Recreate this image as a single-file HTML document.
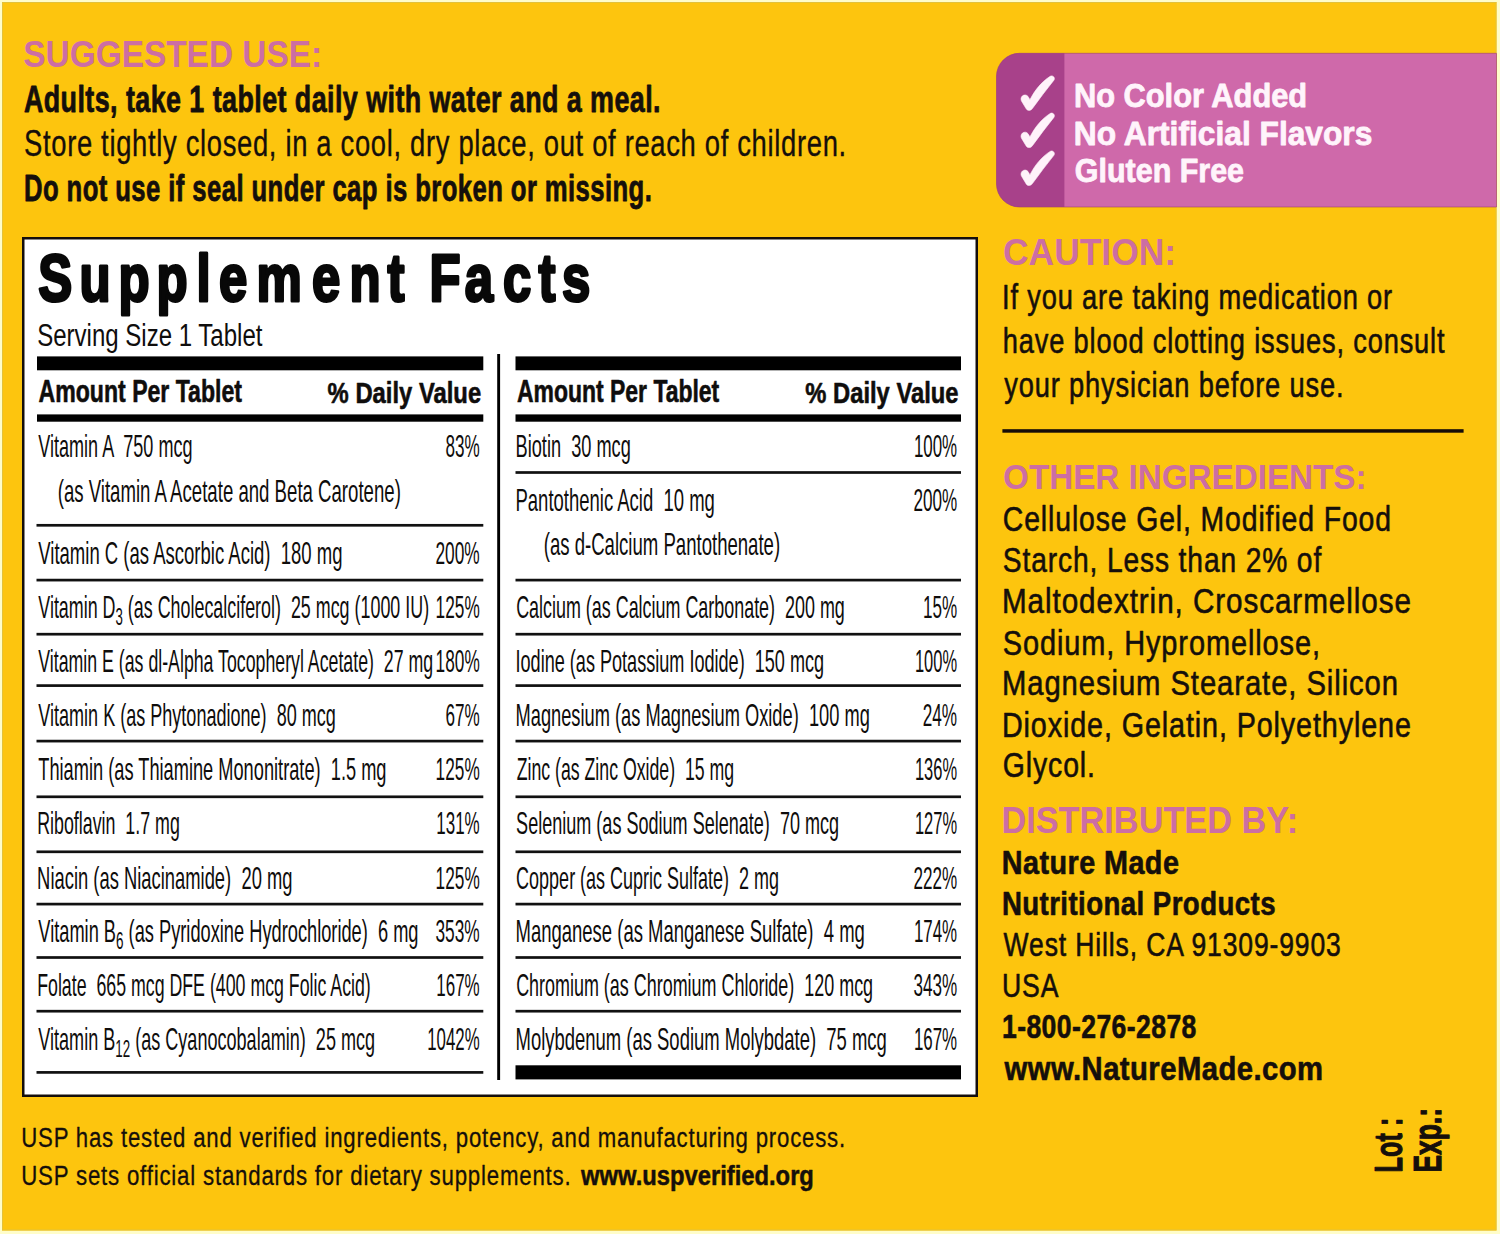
<!DOCTYPE html>
<html><head><meta charset="utf-8"><style>
html,body{margin:0;padding:0;width:1500px;height:1234px;overflow:hidden;background:#fffdc9;}
svg{display:block;font-family:"Liberation Sans",sans-serif;}
</style></head><body>
<svg width="1500" height="1234" viewBox="0 0 1500 1234">
<rect x="0" y="0" width="1500" height="1234" fill="#fffdc9"/>
<rect x="2" y="2" width="1494.5" height="1228.5" fill="#fdc50e"/>
<rect x="2.5" y="2.5" width="1493.5" height="1227.5" fill="none" stroke="#e2c23a" stroke-width="1"/>
<!-- pink box -->
<path d="M1019.5 53.3 H1496.5 V207 H1019.5 A23 23 0 0 1 996.5 184 V76.3 A23 23 0 0 1 1019.5 53.3 Z" fill="#cf69aa"/>
<path d="M1019.5 53.3 H1064.4 V207 H1019.5 A23 23 0 0 1 996.5 184 V76.3 A23 23 0 0 1 1019.5 53.3 Z" fill="#a8418a"/>
<path d="M1019.5 53.3 H1496.5 V207 H1019.5 A23 23 0 0 1 996.5 184 V76.3 A23 23 0 0 1 1019.5 53.3 Z" fill="none" stroke="#9c3f70" stroke-opacity="0.6" stroke-width="1"/>
<g fill="#fff3fa" stroke="#fff3fa" stroke-width="0.6" stroke-linejoin="round">
<path d="M1050.2 76.3 C1052.6 74.8 1055.6 77.6 1053.9 80.2 C1046.4 89.2 1039.4 99.2 1032.4 108.5 C1030.8 111 1027.4 110.9 1026.2 108.8 L1021.6 101.2 C1020.2 98.6 1021.6 95.6 1024.2 95.1 C1026.4 94.6 1027.8 95.8 1028.7 97.6 L1029.9 99.8 C1034.8 90.2 1041.5 81.8 1050.2 76.3 Z"/>
<path transform="translate(0,37.2)" d="M1050.2 76.3 C1052.6 74.8 1055.6 77.6 1053.9 80.2 C1046.4 89.2 1039.4 99.2 1032.4 108.5 C1030.8 111 1027.4 110.9 1026.2 108.8 L1021.6 101.2 C1020.2 98.6 1021.6 95.6 1024.2 95.1 C1026.4 94.6 1027.8 95.8 1028.7 97.6 L1029.9 99.8 C1034.8 90.2 1041.5 81.8 1050.2 76.3 Z"/>
<path transform="translate(0,75.1)" d="M1050.2 76.3 C1052.6 74.8 1055.6 77.6 1053.9 80.2 C1046.4 89.2 1039.4 99.2 1032.4 108.5 C1030.8 111 1027.4 110.9 1026.2 108.8 L1021.6 101.2 C1020.2 98.6 1021.6 95.6 1024.2 95.1 C1026.4 94.6 1027.8 95.8 1028.7 97.6 L1029.9 99.8 C1034.8 90.2 1041.5 81.8 1050.2 76.3 Z"/>
</g>
<!-- panel -->
<rect x="23.25" y="238.25" width="753.5" height="0" fill="none"/>
<rect x="23.25" y="238.25" width="953.5" height="857.5" fill="#ffffff" stroke="#140e0c" stroke-width="2.5"/>
<!-- thick bars -->
<rect x="37" y="356.4" width="446.3" height="13.9" fill="#000"/>
<rect x="515.5" y="356.4" width="445.5" height="13.9" fill="#000"/>
<!-- medium bars -->
<rect x="37" y="414.4" width="446.3" height="7.3" fill="#000"/>
<rect x="515.5" y="414.4" width="445.5" height="7.3" fill="#000"/>
<!-- divider -->
<rect x="497.2" y="354" width="2.9" height="726" fill="#000"/>
<!-- bottom thick bar right col -->
<rect x="515.5" y="1065.3" width="445.5" height="14.1" fill="#000"/>
<!-- thin lines -->
<g fill="#111">
<rect x="36.5" y="523.95" width="446.8" height="2.7"/>
<rect x="36.5" y="578.75" width="446.8" height="2.7"/>
<rect x="36.5" y="632.85" width="446.8" height="2.7"/>
<rect x="36.5" y="684.25" width="446.8" height="2.7"/>
<rect x="36.5" y="739.75" width="446.8" height="2.7"/>
<rect x="36.5" y="795.45" width="446.8" height="2.7"/>
<rect x="36.5" y="850.45" width="446.8" height="2.7"/>
<rect x="36.5" y="902.75" width="446.8" height="2.7"/>
<rect x="36.5" y="956.15" width="446.8" height="2.7"/>
<rect x="36.5" y="1009.85" width="446.8" height="2.7"/>
<rect x="36.5" y="1071.05" width="446.8" height="2.7"/>
<rect x="515.5" y="471.15" width="445.5" height="2.7"/>
<rect x="515.5" y="578.75" width="445.5" height="2.7"/>
<rect x="515.5" y="632.85" width="445.5" height="2.7"/>
<rect x="515.5" y="684.25" width="445.5" height="2.7"/>
<rect x="515.5" y="739.75" width="445.5" height="2.7"/>
<rect x="515.5" y="795.45" width="445.5" height="2.7"/>
<rect x="515.5" y="850.45" width="445.5" height="2.7"/>
<rect x="515.5" y="902.75" width="445.5" height="2.7"/>
<rect x="515.5" y="956.15" width="445.5" height="2.7"/>
<rect x="515.5" y="1009.85" width="445.5" height="2.7"/>
</g>
<!-- caution separator -->
<rect x="1002.4" y="429.2" width="461.2" height="3.5" fill="#150c08"/>

<text x="23.28" y="67.00" font-size="36.34" font-weight="700" fill="#cc6ea3" textLength="298.87" lengthAdjust="spacingAndGlyphs" style="white-space:pre">SUGGESTED USE:</text>
<text x="23.90" y="112.00" font-size="37.79" font-weight="700" fill="#150f0b" stroke="#150f0b" stroke-width="0.8" stroke-linejoin="round" textLength="637.10" lengthAdjust="spacingAndGlyphs" style="white-space:pre;letter-spacing:0.60px">Adults, take 1 tablet daily with water and a meal.</text>
<text x="24.02" y="156.20" font-size="36.34" fill="#150f0b" stroke="#150f0b" stroke-width="0.35" stroke-linejoin="round" textLength="822.81" lengthAdjust="spacingAndGlyphs" style="white-space:pre;letter-spacing:0.90px">Store tightly closed, in a cool, dry place, out of reach of children.</text>
<text x="24.00" y="200.60" font-size="36.77" font-weight="700" fill="#150f0b" stroke="#150f0b" stroke-width="0.8" stroke-linejoin="round" textLength="628.26" lengthAdjust="spacingAndGlyphs" style="white-space:pre;letter-spacing:0.60px">Do not use if seal under cap is broken or missing.</text>
<text x="1073.92" y="106.70" font-size="32.56" font-weight="700" fill="#fff4fb" stroke="#fff4fb" stroke-width="0.8" stroke-linejoin="round" textLength="233.25" lengthAdjust="spacingAndGlyphs" style="white-space:pre">No Color Added</text>
<text x="1073.86" y="144.50" font-size="32.56" font-weight="700" fill="#fff4fb" stroke="#fff4fb" stroke-width="0.8" stroke-linejoin="round" textLength="298.51" lengthAdjust="spacingAndGlyphs" style="white-space:pre">No Artificial Flavors</text>
<text x="1074.86" y="182.10" font-size="32.56" font-weight="700" fill="#fff4fb" stroke="#fff4fb" stroke-width="0.8" stroke-linejoin="round" textLength="169.17" lengthAdjust="spacingAndGlyphs" style="white-space:pre">Gluten Free</text>
<text x="37.22" y="346.00" font-size="30.81" fill="#0f0d0c" textLength="225.23" lengthAdjust="spacingAndGlyphs" style="white-space:pre">Serving Size 1 Tablet</text>
<text x="38.60" y="402.00" font-size="31.25" font-weight="700" fill="#0f0d0c" stroke="#0f0d0c" stroke-width="0.6" stroke-linejoin="round" textLength="203.36" lengthAdjust="spacingAndGlyphs" style="white-space:pre">Amount Per Tablet</text>
<text x="327.60" y="403.30" font-size="29.80" font-weight="700" fill="#0f0d0c" stroke="#0f0d0c" stroke-width="0.6" stroke-linejoin="round" textLength="153.55" lengthAdjust="spacingAndGlyphs" style="white-space:pre">% Daily Value</text>
<text x="517.00" y="402.00" font-size="31.25" font-weight="700" fill="#0f0d0c" stroke="#0f0d0c" stroke-width="0.6" stroke-linejoin="round" textLength="202.26" lengthAdjust="spacingAndGlyphs" style="white-space:pre">Amount Per Tablet</text>
<text x="805.30" y="403.30" font-size="29.80" font-weight="700" fill="#0f0d0c" stroke="#0f0d0c" stroke-width="0.6" stroke-linejoin="round" textLength="153.15" lengthAdjust="spacingAndGlyphs" style="white-space:pre">% Daily Value</text>
<text x="38.30" y="456.70" font-size="31.25" fill="#0f0d0c" textLength="154.19" lengthAdjust="spacingAndGlyphs" style="white-space:pre">Vitamin A  750 mcg</text>
<text x="445.45" y="456.70" font-size="31.25" fill="#0f0d0c" textLength="34.28" lengthAdjust="spacingAndGlyphs" style="white-space:pre">83%</text>
<text x="57.71" y="501.70" font-size="31.25" fill="#0f0d0c" textLength="343.12" lengthAdjust="spacingAndGlyphs" style="white-space:pre">(as Vitamin A Acetate and Beta Carotene)</text>
<text x="38.30" y="563.90" font-size="31.25" fill="#0f0d0c" textLength="304.21" lengthAdjust="spacingAndGlyphs" style="white-space:pre">Vitamin C (as Ascorbic Acid)  180 mg</text>
<text x="435.45" y="563.90" font-size="31.25" fill="#0f0d0c" textLength="44.29" lengthAdjust="spacingAndGlyphs" style="white-space:pre">200%</text>
<text x="38.30" y="618.30" font-size="31.25" fill="#0f0d0c" textLength="390.81" lengthAdjust="spacingAndGlyphs" style="white-space:pre">Vitamin D<tspan font-size="23.13" dy="6.56">3</tspan><tspan dy="-6.56"> (as Cholecalciferol)  25 mcg (1000 IU)</tspan></text>
<text x="435.60" y="618.30" font-size="31.25" fill="#0f0d0c" textLength="44.14" lengthAdjust="spacingAndGlyphs" style="white-space:pre">125%</text>
<text x="38.30" y="672.20" font-size="31.25" fill="#0f0d0c" textLength="394.78" lengthAdjust="spacingAndGlyphs" style="white-space:pre">Vitamin E (as dl-Alpha Tocopheryl Acetate)  27 mg</text>
<text x="435.60" y="672.20" font-size="31.25" fill="#0f0d0c" textLength="44.14" lengthAdjust="spacingAndGlyphs" style="white-space:pre">180%</text>
<text x="38.30" y="726.10" font-size="31.25" fill="#0f0d0c" textLength="297.50" lengthAdjust="spacingAndGlyphs" style="white-space:pre">Vitamin K (as Phytonadione)  80 mcg</text>
<text x="445.45" y="726.10" font-size="31.25" fill="#0f0d0c" textLength="34.28" lengthAdjust="spacingAndGlyphs" style="white-space:pre">67%</text>
<text x="38.30" y="779.70" font-size="31.25" fill="#0f0d0c" textLength="348.20" lengthAdjust="spacingAndGlyphs" style="white-space:pre">Thiamin (as Thiamine Mononitrate)  1.5 mg</text>
<text x="435.60" y="779.70" font-size="31.25" fill="#0f0d0c" textLength="44.14" lengthAdjust="spacingAndGlyphs" style="white-space:pre">125%</text>
<text x="37.16" y="834.20" font-size="31.25" fill="#0f0d0c" textLength="142.63" lengthAdjust="spacingAndGlyphs" style="white-space:pre">Riboflavin  1.7 mg</text>
<text x="436.21" y="834.20" font-size="31.25" fill="#0f0d0c" textLength="43.52" lengthAdjust="spacingAndGlyphs" style="white-space:pre">131%</text>
<text x="37.12" y="889.30" font-size="31.25" fill="#0f0d0c" textLength="255.39" lengthAdjust="spacingAndGlyphs" style="white-space:pre">Niacin (as Niacinamide)  20 mg</text>
<text x="435.60" y="889.30" font-size="31.25" fill="#0f0d0c" textLength="44.14" lengthAdjust="spacingAndGlyphs" style="white-space:pre">125%</text>
<text x="38.30" y="942.20" font-size="31.25" fill="#0f0d0c" textLength="380.21" lengthAdjust="spacingAndGlyphs" style="white-space:pre">Vitamin B<tspan font-size="23.13" dy="6.56">6</tspan><tspan dy="-6.56"> (as Pyridoxine Hydrochloride)  6 mg</tspan></text>
<text x="435.45" y="942.20" font-size="31.25" fill="#0f0d0c" textLength="44.29" lengthAdjust="spacingAndGlyphs" style="white-space:pre">353%</text>
<text x="37.17" y="996.30" font-size="31.25" fill="#0f0d0c" textLength="333.63" lengthAdjust="spacingAndGlyphs" style="white-space:pre">Folate  665 mcg DFE (400 mcg Folic Acid)</text>
<text x="436.21" y="996.30" font-size="31.25" fill="#0f0d0c" textLength="43.52" lengthAdjust="spacingAndGlyphs" style="white-space:pre">167%</text>
<text x="38.30" y="1050.10" font-size="31.25" fill="#0f0d0c" textLength="336.80" lengthAdjust="spacingAndGlyphs" style="white-space:pre">Vitamin B<tspan font-size="23.13" dy="6.56">12</tspan><tspan dy="-6.56"> (as Cyanocobalamin)  25 mcg</tspan></text>
<text x="427.22" y="1050.10" font-size="31.25" fill="#0f0d0c" textLength="52.50" lengthAdjust="spacingAndGlyphs" style="white-space:pre">1042%</text>
<text x="515.54" y="456.70" font-size="31.25" fill="#0f0d0c" textLength="115.27" lengthAdjust="spacingAndGlyphs" style="white-space:pre">Biotin  30 mcg</text>
<text x="913.92" y="456.70" font-size="31.25" fill="#0f0d0c" textLength="43.21" lengthAdjust="spacingAndGlyphs" style="white-space:pre">100%</text>
<text x="515.52" y="510.70" font-size="31.25" fill="#0f0d0c" textLength="199.29" lengthAdjust="spacingAndGlyphs" style="white-space:pre">Pantothenic Acid  10 mg</text>
<text x="913.45" y="510.70" font-size="31.25" fill="#0f0d0c" textLength="43.68" lengthAdjust="spacingAndGlyphs" style="white-space:pre">200%</text>
<text x="543.71" y="555.00" font-size="31.25" fill="#0f0d0c" textLength="236.43" lengthAdjust="spacingAndGlyphs" style="white-space:pre">(as d-Calcium Pantothenate)</text>
<text x="516.13" y="618.30" font-size="31.25" fill="#0f0d0c" textLength="328.66" lengthAdjust="spacingAndGlyphs" style="white-space:pre">Calcium (as Calcium Carbonate)  200 mg</text>
<text x="922.91" y="618.30" font-size="31.25" fill="#0f0d0c" textLength="34.22" lengthAdjust="spacingAndGlyphs" style="white-space:pre">15%</text>
<text x="515.54" y="672.20" font-size="31.25" fill="#0f0d0c" textLength="308.56" lengthAdjust="spacingAndGlyphs" style="white-space:pre">Iodine (as Potassium Iodide)  150 mcg</text>
<text x="914.94" y="672.20" font-size="31.25" fill="#0f0d0c" textLength="42.17" lengthAdjust="spacingAndGlyphs" style="white-space:pre">100%</text>
<text x="515.53" y="726.10" font-size="31.25" fill="#0f0d0c" textLength="354.28" lengthAdjust="spacingAndGlyphs" style="white-space:pre">Magnesium (as Magnesium Oxide)  100 mg</text>
<text x="922.75" y="726.10" font-size="31.25" fill="#0f0d0c" textLength="34.38" lengthAdjust="spacingAndGlyphs" style="white-space:pre">24%</text>
<text x="516.70" y="779.70" font-size="31.25" fill="#0f0d0c" textLength="217.38" lengthAdjust="spacingAndGlyphs" style="white-space:pre">Zinc (as Zinc Oxide)  15 mg</text>
<text x="914.94" y="779.70" font-size="31.25" fill="#0f0d0c" textLength="42.17" lengthAdjust="spacingAndGlyphs" style="white-space:pre">136%</text>
<text x="516.12" y="834.20" font-size="31.25" fill="#0f0d0c" textLength="322.97" lengthAdjust="spacingAndGlyphs" style="white-space:pre">Selenium (as Sodium Selenate)  70 mcg</text>
<text x="914.94" y="834.20" font-size="31.25" fill="#0f0d0c" textLength="42.17" lengthAdjust="spacingAndGlyphs" style="white-space:pre">127%</text>
<text x="516.12" y="889.30" font-size="31.25" fill="#0f0d0c" textLength="262.97" lengthAdjust="spacingAndGlyphs" style="white-space:pre">Copper (as Cupric Sulfate)  2 mg</text>
<text x="913.45" y="889.30" font-size="31.25" fill="#0f0d0c" textLength="43.68" lengthAdjust="spacingAndGlyphs" style="white-space:pre">222%</text>
<text x="515.52" y="942.20" font-size="31.25" fill="#0f0d0c" textLength="349.30" lengthAdjust="spacingAndGlyphs" style="white-space:pre">Manganese (as Manganese Sulfate)  4 mg</text>
<text x="913.92" y="942.20" font-size="31.25" fill="#0f0d0c" textLength="43.21" lengthAdjust="spacingAndGlyphs" style="white-space:pre">174%</text>
<text x="516.13" y="996.30" font-size="31.25" fill="#0f0d0c" textLength="356.97" lengthAdjust="spacingAndGlyphs" style="white-space:pre">Chromium (as Chromium Chloride)  120 mcg</text>
<text x="913.45" y="996.30" font-size="31.25" fill="#0f0d0c" textLength="43.68" lengthAdjust="spacingAndGlyphs" style="white-space:pre">343%</text>
<text x="515.52" y="1050.10" font-size="31.25" fill="#0f0d0c" textLength="371.30" lengthAdjust="spacingAndGlyphs" style="white-space:pre">Molybdenum (as Sodium Molybdate)  75 mcg</text>
<text x="913.92" y="1050.10" font-size="31.25" fill="#0f0d0c" textLength="43.21" lengthAdjust="spacingAndGlyphs" style="white-space:pre">167%</text>
<text x="1003.06" y="265.00" font-size="37.79" font-weight="700" fill="#cc6ea3" textLength="172.99" lengthAdjust="spacingAndGlyphs" style="white-space:pre">CAUTION:</text>
<text x="1001.98" y="309.30" font-size="35.18" fill="#150f0b" stroke="#150f0b" stroke-width="0.6" stroke-linejoin="round" textLength="391.05" lengthAdjust="spacingAndGlyphs" style="white-space:pre;letter-spacing:1.10px">If you are taking medication or</text>
<text x="1002.75" y="353.30" font-size="35.18" fill="#150f0b" stroke="#150f0b" stroke-width="0.6" stroke-linejoin="round" textLength="442.62" lengthAdjust="spacingAndGlyphs" style="white-space:pre;letter-spacing:1.10px">have blood clotting issues, consult</text>
<text x="1004.30" y="396.70" font-size="35.18" fill="#150f0b" stroke="#150f0b" stroke-width="0.6" stroke-linejoin="round" textLength="340.10" lengthAdjust="spacingAndGlyphs" style="white-space:pre;letter-spacing:1.10px">your physician before use.</text>
<text x="1003.06" y="489.30" font-size="35.32" font-weight="700" fill="#cc6ea3" textLength="363.54" lengthAdjust="spacingAndGlyphs" style="white-space:pre">OTHER INGREDIENTS:</text>
<text x="1002.80" y="531.00" font-size="35.32" fill="#150f0b" stroke="#150f0b" stroke-width="0.6" stroke-linejoin="round" textLength="389.10" lengthAdjust="spacingAndGlyphs" style="white-space:pre;letter-spacing:1.10px">Cellulose Gel, Modified Food</text>
<text x="1002.80" y="571.70" font-size="35.32" fill="#150f0b" stroke="#150f0b" stroke-width="0.6" stroke-linejoin="round" textLength="319.32" lengthAdjust="spacingAndGlyphs" style="white-space:pre;letter-spacing:1.10px">Starch, Less than 2% of</text>
<text x="1001.92" y="613.30" font-size="35.32" fill="#150f0b" stroke="#150f0b" stroke-width="0.6" stroke-linejoin="round" textLength="409.94" lengthAdjust="spacingAndGlyphs" style="white-space:pre;letter-spacing:1.10px">Maltodextrin, Croscarmellose</text>
<text x="1002.78" y="655.00" font-size="35.32" fill="#150f0b" stroke="#150f0b" stroke-width="0.6" stroke-linejoin="round" textLength="318.13" lengthAdjust="spacingAndGlyphs" style="white-space:pre;letter-spacing:1.10px">Sodium, Hypromellose,</text>
<text x="1001.94" y="695.00" font-size="35.32" fill="#150f0b" stroke="#150f0b" stroke-width="0.6" stroke-linejoin="round" textLength="397.03" lengthAdjust="spacingAndGlyphs" style="white-space:pre;letter-spacing:1.10px">Magnesium Stearate, Silicon</text>
<text x="1001.97" y="736.70" font-size="35.32" fill="#150f0b" stroke="#150f0b" stroke-width="0.6" stroke-linejoin="round" textLength="409.84" lengthAdjust="spacingAndGlyphs" style="white-space:pre;letter-spacing:1.10px">Dioxide, Gelatin, Polyethylene</text>
<text x="1002.80" y="777.30" font-size="35.32" fill="#150f0b" stroke="#150f0b" stroke-width="0.6" stroke-linejoin="round" textLength="93.05" lengthAdjust="spacingAndGlyphs" style="white-space:pre;letter-spacing:1.10px">Glycol.</text>
<text x="1001.44" y="832.70" font-size="36.92" font-weight="700" fill="#cc6ea3" textLength="296.62" lengthAdjust="spacingAndGlyphs" style="white-space:pre">DISTRIBUTED BY:</text>
<text x="1001.82" y="874.00" font-size="32.41" font-weight="700" fill="#150f0b" stroke="#150f0b" stroke-width="0.6" stroke-linejoin="round" textLength="177.53" lengthAdjust="spacingAndGlyphs" style="white-space:pre;letter-spacing:0.50px">Nature Made</text>
<text x="1001.89" y="915.00" font-size="32.41" font-weight="700" fill="#150f0b" stroke="#150f0b" stroke-width="0.6" stroke-linejoin="round" textLength="274.10" lengthAdjust="spacingAndGlyphs" style="white-space:pre;letter-spacing:0.50px">Nutritional Products</text>
<text x="1003.60" y="956.00" font-size="33.43" fill="#150f0b" stroke="#150f0b" stroke-width="0.6" stroke-linejoin="round" textLength="338.13" lengthAdjust="spacingAndGlyphs" style="white-space:pre;letter-spacing:1.10px">West Hills, CA 91309-9903</text>
<text x="1002.01" y="997.30" font-size="33.43" fill="#150f0b" stroke="#150f0b" stroke-width="0.6" stroke-linejoin="round" textLength="57.30" lengthAdjust="spacingAndGlyphs" style="white-space:pre;letter-spacing:1.10px">USA</text>
<text x="1001.96" y="1038.30" font-size="32.41" font-weight="700" fill="#150f0b" stroke="#150f0b" stroke-width="0.6" stroke-linejoin="round" textLength="194.87" lengthAdjust="spacingAndGlyphs" style="white-space:pre;letter-spacing:0.50px">1-800-276-2878</text>
<text x="1004.50" y="1080.00" font-size="32.41" font-weight="700" fill="#150f0b" stroke="#150f0b" stroke-width="0.6" stroke-linejoin="round" textLength="318.99" lengthAdjust="spacingAndGlyphs" style="white-space:pre;letter-spacing:0.50px">www.NatureMade.com</text>
<text x="21.24" y="1147.30" font-size="27.62" fill="#150f0b" stroke="#150f0b" stroke-width="0.3" stroke-linejoin="round" textLength="824.75" lengthAdjust="spacingAndGlyphs" style="white-space:pre;letter-spacing:1.00px">USP has tested and verified ingredients, potency, and manufacturing process.</text>
<text x="21.24" y="1185.00" font-size="27.62" fill="#150f0b" stroke="#150f0b" stroke-width="0.3" stroke-linejoin="round" textLength="550.26" lengthAdjust="spacingAndGlyphs" style="white-space:pre;letter-spacing:1.00px">USP sets official standards for dietary supplements.</text>
<text x="581.11" y="1185.00" font-size="27.62" font-weight="700" fill="#150f0b" stroke="#150f0b" stroke-width="0.5" stroke-linejoin="round" textLength="232.78" lengthAdjust="spacingAndGlyphs" style="white-space:pre">www.uspverified.org</text>
<text transform="translate(1402.00,1171.80) rotate(-90)" x="-0.76" y="0" font-size="38.66" font-weight="700" fill="#150f0b" stroke="#150f0b" stroke-width="1.1" stroke-linejoin="round" textLength="54.90" lengthAdjust="spacingAndGlyphs">Lot :</text>
<text transform="translate(1440.60,1171.80) rotate(-90)" x="-0.80" y="0" font-size="39.24" font-weight="700" fill="#150f0b" stroke="#150f0b" stroke-width="1.1" stroke-linejoin="round" textLength="64.61" lengthAdjust="spacingAndGlyphs">Exp.:</text>
<text transform="scale(0.7656,1)" y="301.5" font-size="66.57" font-weight="700" fill="#080808" stroke="#080808" stroke-width="3.0" stroke-linejoin="round"><tspan x="50.07">S</tspan><tspan x="103.75">u</tspan><tspan x="154.69">p</tspan><tspan x="204.32">p</tspan><tspan x="256.57">l</tspan><tspan x="285.99">e</tspan><tspan x="334.93">m</tspan><tspan x="407.46">e</tspan><tspan x="456.40">n</tspan><tspan x="506.11">t</tspan><tspan x="560.89">F</tspan><tspan x="606.99">a</tspan><tspan x="656.93">c</tspan><tspan x="703.33">t</tspan><tspan x="733.99">s</tspan></text>
</svg>
</body></html>
